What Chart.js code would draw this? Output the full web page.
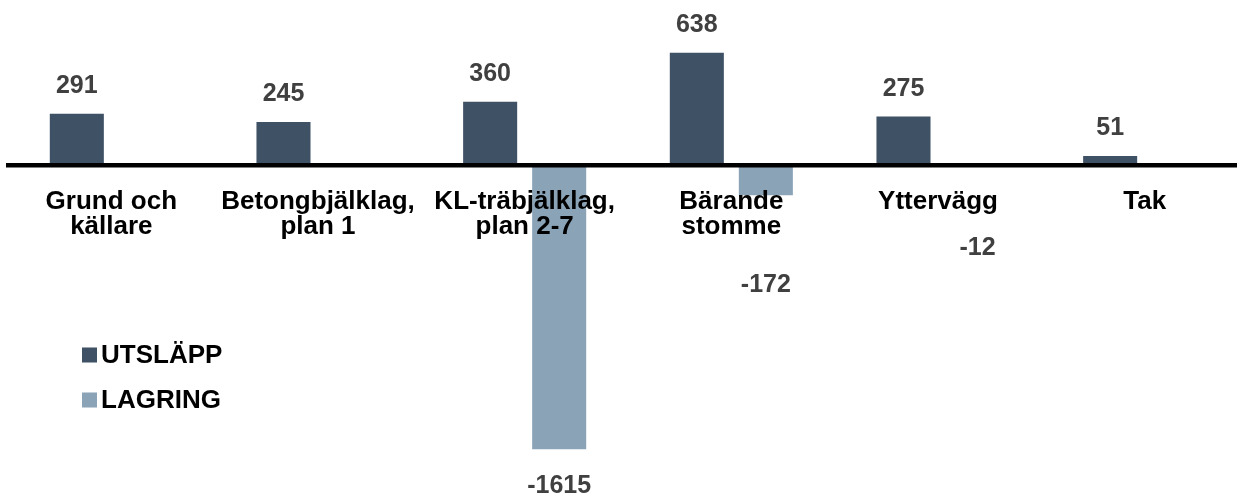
<!DOCTYPE html>
<html>
<head>
<meta charset="utf-8">
<script src="https://cdn.jsdelivr.net/npm/chart.js@4"></script>
<style>
  html, body { margin: 0; padding: 0; background: #fff; overflow: hidden; }
  #wrap { position: relative; width: 1248px; height: 495px; }
</style>
</head>
<body>
<div id="wrap"><canvas id="chart"></canvas></div>
<script>
const categories = [
  ['Grund och', 'källare'],
  ['Betongbjälklag,', 'plan 1'],
  ['KL-träbjälklag,', 'plan 2-7'],
  ['Bärande', 'stomme'],
  'Yttervägg',
  'Tak'
];
const utslapp = [291, 245, 360, 638, 275, 51];
const lagring = [null, null, -1615, -172, -12, null];

const colors = {
  dark: '#3E5165',
  light: '#8BA3B6',
  value: '#404040',
  text: '#000000'
};
const FONT = "'Liberation Sans', Arial, sans-serif";

// value labels above/below the bars (gap below negative bars as in the reference)
const negGap = [24, 24, 24, 77, 68, 24];
const valueLabels = {
  id: 'valueLabels',
  afterDatasetsDraw(chart) {
    const ctx = chart.ctx;
    ctx.save();
    ctx.font = 'bold 25px ' + FONT;
    ctx.fillStyle = colors.value;
    ctx.textAlign = 'center';
    chart.data.datasets.forEach((ds, di) => {
      chart.getDatasetMeta(di).data.forEach((bar, i) => {
        const v = ds.data[i];
        if (v === null || v === undefined) return;
        if (v >= 0) {
          ctx.textBaseline = 'bottom';
          ctx.fillText(String(v), bar.x, bar.y - 15);
        } else {
          ctx.textBaseline = 'top';
          ctx.fillText(String(v), bar.x + (i === 4 ? 5 : 0), bar.y + negGap[i]);
        }
      });
    });
    ctx.restore();
  }
};

// legend on the left, stacked
const sideLegend = {
  id: 'sideLegend',
  afterDraw(chart) {
    const ctx = chart.ctx;
    ctx.save();
    ctx.font = 'bold 26px ' + FONT;
    ctx.textAlign = 'left';
    ctx.textBaseline = 'middle';
    chart.data.datasets.forEach((ds, i) => {
      const cy = 355 + i * 45;
      ctx.fillStyle = ds.backgroundColor;
      ctx.fillRect(82, cy - 7.5, 15, 15);
      ctx.fillStyle = colors.text;
      ctx.fillText(ds.label, 101, cy + 1);
    });
    ctx.restore();
  }
};

new Chart(document.getElementById('chart'), {
  type: 'bar',
  data: {
    labels: categories,
    datasets: [
      {
        label: 'UTSLÄPP',
        data: utslapp,
        backgroundColor: colors.dark,
        categoryPercentage: 0.668,
        barPercentage: 0.783
      },
      {
        label: 'LAGRING',
        data: lagring,
        backgroundColor: colors.light,
        categoryPercentage: 0.668,
        barPercentage: 0.783
      }
    ]
  },
  options: {
    responsive: true,
    maintainAspectRatio: false,
    animation: false,
    layout: { padding: { left: 8, right: 0, top: 0, bottom: 0 } },
    plugins: {
      legend: { display: false },
      tooltip: { enabled: false }
    },
    scales: {
      x: {
        position: { y: 0 },
        grid: { display: false, drawTicks: false },
        border: { display: true, color: '#000', width: 4.6, z: 1 },
        ticks: {
          z: 1,
          color: colors.text,
          padding: 24,
          autoSkip: false,
          maxRotation: 0,
          font: { family: FONT, size: 26, weight: 'bold', lineHeight: 0.98 }
        }
      },
      y: {
        display: false,
        min: -1875,
        max: 937.5
      }
    }
  },
  plugins: [valueLabels, sideLegend]
});
</script>
</body>
</html>
